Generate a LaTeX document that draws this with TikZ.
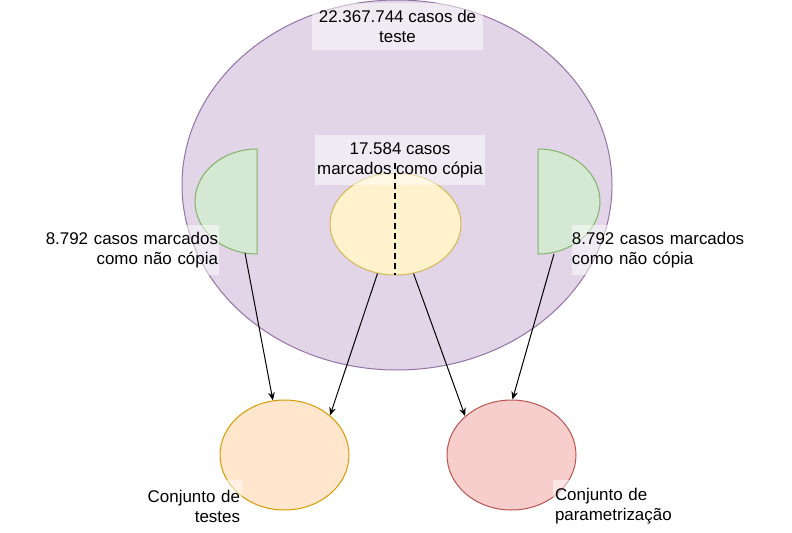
\documentclass[tikz,border=0pt]{standalone}
\usepackage{fontspec}
\setmainfont{Liberation Sans}
\usetikzlibrary{arrows.meta,shapes.geometric}
\definecolor{purpfill}{HTML}{E1D5E7}
\definecolor{purpline}{HTML}{9673A6}
\definecolor{greenfill}{HTML}{D5E8D4}
\definecolor{greenline}{HTML}{82B366}
\definecolor{yelfill}{HTML}{FFF2CC}
\definecolor{yelline}{HTML}{D6B656}
\definecolor{orfill}{HTML}{FFE6CC}
\definecolor{orline}{HTML}{D79B00}
\definecolor{redfill}{HTML}{F8CECC}
\definecolor{redline}{HTML}{B85450}
\tikzset{
  blob/.style={ellipse, draw, line width=0.75pt, inner sep=0pt},
  lbl/.style={fill=white, fill opacity=0.5, text opacity=1, inner sep=0pt,
    font=\fontsize{12.7}{15}\selectfont},
  conn/.style={line width=0.75pt, -{Stealth[length=6pt,width=5pt]}},
}
\begin{document}
\begin{tikzpicture}[x=0.75pt,y=-0.75pt]
\useasboundingbox (0,0) rectangle (792,532);
% big ellipse
\node[blob, fill=purpfill, draw=purpline, minimum width=322.5pt, minimum height=277.5pt] (big) at (397,185) {};
% half shapes
\draw[line width=0.75pt, fill=greenfill, draw=greenline]
  (257,149) arc[start angle=90, end angle=270, x radius=46.5pt, y radius=39.375pt] -- cycle;
\draw[line width=0.75pt, fill=greenfill, draw=greenline]
  (538,149) arc[start angle=90, end angle=-90, x radius=46.5pt, y radius=39.375pt] -- cycle;
\coordinate (gla) at (245,253);
\coordinate (gra) at (554,254);
% yellow ellipse
\node[blob, fill=yelfill, draw=yelline, minimum width=98.25pt, minimum height=76.5pt] (y) at (395.5,224) {};
% bottom ellipses
\node[blob, fill=orfill, draw=orline, minimum width=96.75pt, minimum height=82.5pt] (tl) at (284.5,455) {};
\node[blob, fill=redfill, draw=redline, minimum width=96.75pt, minimum height=82.5pt] (tr) at (511.5,455) {};
% labels
\node[lbl, minimum width=128.25pt, minimum height=35.25pt, align=center] (lt) at (397.5,26.5) {22.367.744 casos de\\teste};
\node[lbl, minimum width=127.5pt, minimum height=37.5pt, align=center] (lm) at (400,160) {17.584 casos\\marcados como cópia};
\node[lbl, text width=140pt, inner xsep=0.75pt, minimum height=37.5pt, align=right] (ll) at (124.7,250) {8.792 casos marcados\\como não cópia};
\node[lbl, text width=140pt, minimum height=37.5pt, align=left] (lr) at (665.3,250) {8.792 casos marcados\\como não cópia};
\node[lbl, text width=75pt, inner xsep=1.5pt, minimum height=39pt, align=right] (lbl1) at (190,506) {Conjunto de\\testes};
\node[lbl, text width=90pt, inner xsep=1.5pt, minimum height=39pt, align=left] (lbr) at (615,506) {Conjunto de\\parametrização};
% dashed divider
\coordinate (dtop) at (395,163);
\coordinate (dbot) at (395,275);
\draw[line width=1.5pt, dash pattern=on 4.5pt off 3pt] (dtop) -- (dbot);
% connectors
\draw[conn] (gla) -- (tl.102);
\draw[conn] (y.250) -- (tl.41);
\draw[conn] (y.290) -- (tr.140);
\draw[conn] (gra) -- (tr.89);
\end{tikzpicture}
\end{document}
